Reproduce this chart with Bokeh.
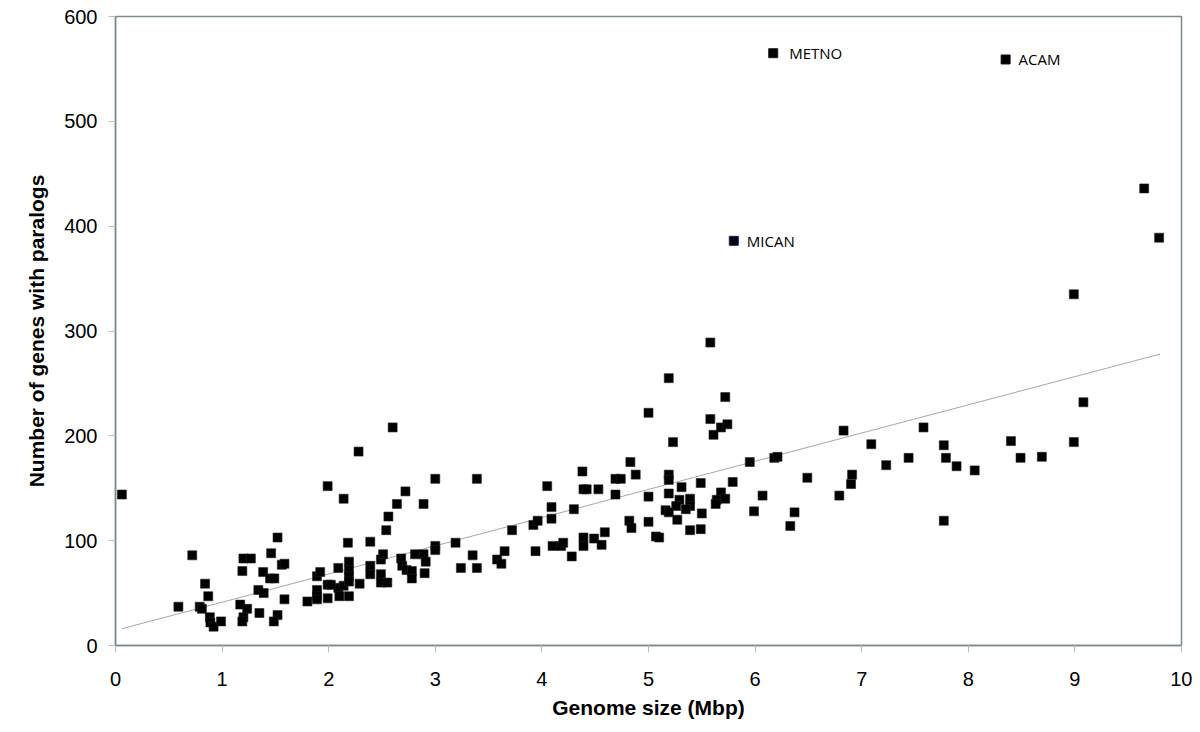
from bokeh.plotting import figure
from bokeh.models import ColumnDataSource, Range1d, FixedTicker
from bokeh.embed import file_html
from bokeh.resources import INLINE
from bokeh.core.properties import value

# Genome size (Mbp) and number of genes with paralogs
genome_size = [
    0.06, 0.59, 0.72, 0.84, 0.87, 0.79, 0.81, 0.885, 0.89, 0.92, 0.99,
    1.17, 1.235, 1.20, 1.19, 1.35, 1.20, 1.27, 1.19, 1.46, 1.52, 1.56, 1.585,
    1.385, 1.45, 1.49, 1.34, 1.39, 1.585, 1.52, 1.485,
    1.80, 1.89, 1.92, 1.89, 1.89, 1.89, 1.99, 1.99, 1.99,
    2.09, 2.09, 2.10, 2.14, 2.18, 2.19, 2.19, 2.19, 2.19, 2.19, 2.14,
    2.60, 2.28, 2.02, 2.72, 2.64, 2.89, 2.56, 2.54, 2.39,
    2.29, 2.39, 2.39, 2.49, 2.51, 2.49, 2.49, 2.55,
    2.68, 2.69, 2.73, 2.78, 2.78, 2.81, 2.89, 2.91, 2.90,
    3.00, 3.00, 3.00, 3.39, 3.19, 3.24, 3.35, 3.39, 3.58, 3.62, 3.65, 3.72,
    3.94, 3.92, 3.96, 4.05, 4.09, 4.09, 4.30, 4.10, 4.18, 4.20, 4.28, 4.38,
    4.83, 4.88, 4.69, 4.74, 4.39, 4.42, 4.53, 4.69,
    4.59, 4.49, 4.56, 4.39, 4.39, 4.82, 4.84,
    5.58, 5.19, 5.72, 5.00, 5.58, 5.68, 5.74, 5.61, 5.23, 5.95, 6.18, 6.21,
    5.19, 5.19, 5.19, 5.00, 5.31, 5.49, 5.79, 6.07,
    5.68, 5.64, 5.72, 5.63, 5.29, 5.39, 5.26, 5.39, 5.35, 5.16, 5.19,
    5.50, 5.99, 5.27, 5.00, 5.39, 5.49, 5.07, 5.10,
    6.49, 6.37, 6.33, 6.83, 6.79, 6.91, 6.90, 7.09, 7.23, 7.44, 7.58,
    7.77, 7.79, 7.77, 7.89, 8.06, 8.40, 8.49, 8.69, 8.99, 9.08,
    8.99, 9.65, 9.79,
]
paralogs = [
    144, 37, 86, 59, 47, 37, 35, 27, 22, 18, 23,
    39, 35, 27, 23, 31, 83, 83, 71, 88, 103, 77, 78,
    70, 64, 64, 53, 50, 44, 29, 23,
    42, 66, 70, 53, 47, 44, 58, 45, 152,
    74, 55, 47, 57, 98, 80, 72, 66, 61, 47, 140,
    208, 185, 58, 147, 135, 135, 123, 110, 99,
    59, 76, 68, 82, 87, 68, 60, 60,
    83, 76, 72, 71, 64, 87, 87, 80, 69,
    159, 95, 91, 159, 98, 74, 86, 74, 82, 78, 90, 110,
    90, 115, 119, 152, 132, 121, 130, 95, 95, 98, 85, 166,
    175, 163, 159, 159, 149, 149, 149, 144,
    108, 102, 96, 103, 95, 119, 112,
    289, 255, 237, 222, 216, 208, 211, 201, 194, 175, 179, 180,
    163, 158, 145, 142, 151, 155, 156, 143,
    146, 139, 140, 135, 139, 140, 133, 133, 130, 129, 127,
    126, 128, 120, 118, 110, 111, 104, 103,
    160, 127, 114, 205, 143, 163, 154, 192, 172, 179, 208,
    191, 179, 119, 171, 167, 195, 179, 180, 194, 232,
    335, 436, 389,
]

named_labels = ["METNO", "ACAM", "MICAN"]
named_size = [6.17, 8.35, 5.80]
named_paralogs = [565, 559, 386]
named_edge = ["#1a1a1a", "#1a1a1a", "#1a1a80"]
named_offset = [16, 13, 13]

trend_x = [0.06, 9.80]
trend_y = [16, 278]

x_ticks = [0, 1, 2, 3, 4, 5, 6, 7, 8, 9, 10]
y_ticks = [0, 100, 200, 300, 400, 500, 600]

p = figure(width=1192, height=724, output_backend="svg", toolbar_location=None,
           x_range=Range1d(0, 10), y_range=Range1d(0, 600),
           min_border_left=115, min_border_right=11, min_border_top=16,
           min_border_bottom=79)

p.xgrid.visible = False
p.ygrid.visible = False
p.background_fill_color = "white"
p.border_fill_color = "white"
p.outline_line_color = "#7d8b8b"
p.outline_line_width = 1.5

p.line(trend_x, trend_y, line_color="#a8a8a8", line_width=1)

src = ColumnDataSource(dict(x=genome_size, y=paralogs))
p.scatter("x", "y", source=src, marker="square", size=9,
          fill_color="black", line_color="#222222", line_width=0.6)

nsrc = ColumnDataSource(dict(x=named_size, y=named_paralogs, t=named_labels,
                             edge=named_edge, off=named_offset))
p.scatter("x", "y", source=nsrc, marker="square", size=9,
          fill_color="black", line_color="edge", line_width=1)
p.text("x", "y", text="t", source=nsrc, x_offset="off", text_baseline="middle",
       text_align="left", text_font=value("Open Sans"), text_font_size="15px",
       text_color="black")

for ax, ticks in ((p.xaxis, x_ticks), (p.yaxis, y_ticks)):
    ax.ticker = FixedTicker(ticks=ticks)
    ax.axis_line_color = "#7d8b8b"
    ax.axis_line_width = 1.5
    ax.major_tick_line_color = "#b8c0c0"
    ax.major_tick_in = 0
    ax.major_tick_out = 7
    ax.minor_tick_line_color = None
    ax.major_label_text_font = "Liberation Sans"
    ax.major_label_text_font_size = "20px"
    ax.major_label_text_color = "black"
    ax.axis_label_text_font = "Liberation Sans"
    ax.axis_label_text_font_size = "21px"
    ax.axis_label_text_font_style = "bold"
    ax.axis_label_text_color = "black"

p.xaxis.axis_label = "Genome size (Mbp)"
p.yaxis.axis_label = "Number of genes with paralogs"
p.xaxis.major_label_standoff = 19
p.xaxis.axis_label_standoff = 7
p.yaxis.major_label_standoff = 11
p.yaxis.axis_label_standoff = 13

open("out.html", "w").write(file_html(p, INLINE))
